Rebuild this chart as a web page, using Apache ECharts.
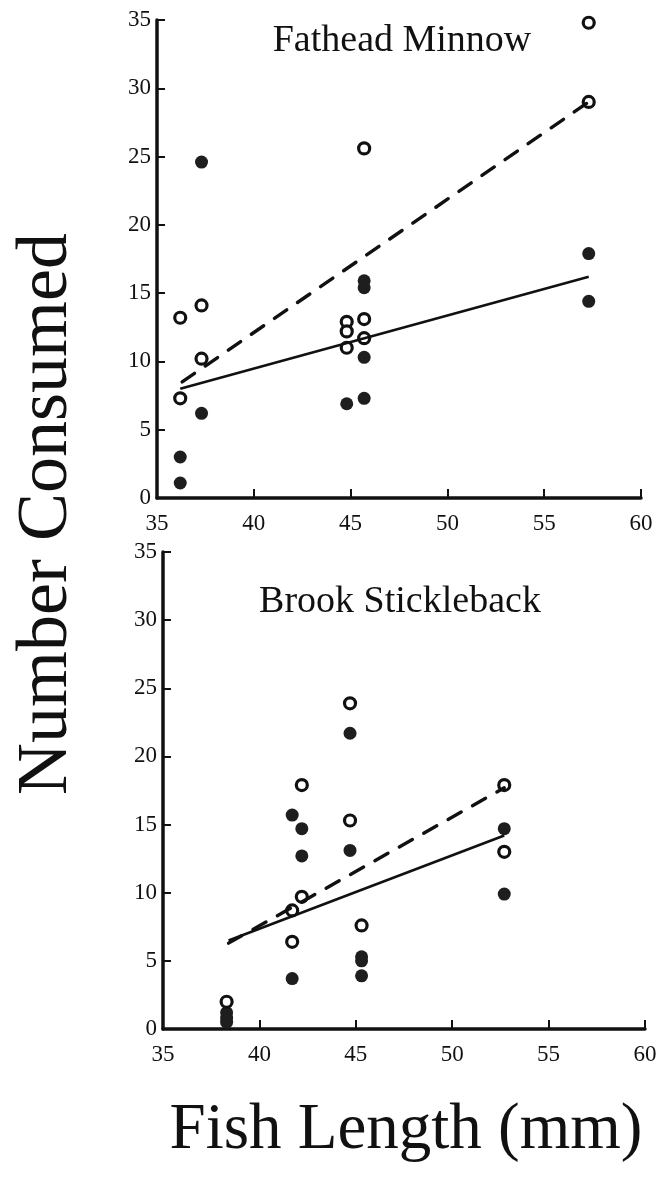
<!DOCTYPE html>
<html>
<head>
<meta charset="utf-8">
<script src="https://cdn.jsdelivr.net/npm/echarts@6/dist/echarts.min.js"></script>
<style>
html,body{margin:0;padding:0;background:#fff;}
#chart{width:661px;height:1179px;}
</style>
</head>
<body>
<div id="chart"></div>
<script>
// ---- Data ----
var xTicks = [35, 40, 45, 50, 55, 60];
var yTicks = [0, 5, 10, 15, 20, 25, 30, 35];

// Fathead Minnow (top panel)
var fmFilledX = [36.2, 36.2, 37.3, 37.3, 44.8, 45.7, 45.7, 45.7, 45.7, 57.3, 57.3];
var fmFilledY = [3.0, 1.1, 24.6, 6.2, 6.9, 7.3, 10.3, 15.4, 15.9, 17.9, 14.4];
var fmOpenX = [36.2, 36.2, 37.3, 37.3, 44.8, 44.8, 44.8, 45.7, 45.7, 45.7, 57.3, 57.3];
var fmOpenY = [13.2, 7.3, 14.1, 10.2, 12.9, 12.2, 11.0, 13.1, 11.7, 25.6, 34.8, 29.0];
var fmSolidX = [36.2, 57.3];
var fmSolidY = [8.0, 16.2];
var fmDashX = [36.3, 57.3];
var fmDashY = [8.5, 29.0];

// Brook Stickleback (bottom panel)
var bsFilledX = [38.3, 38.3, 38.3, 41.7, 41.7, 42.2, 42.2, 44.7, 44.7, 45.3, 45.3, 45.3, 52.7, 52.7];
var bsFilledY = [1.2, 0.8, 0.5, 15.7, 3.7, 14.7, 12.7, 21.7, 13.1, 5.3, 5.0, 3.9, 14.7, 9.9];
var bsOpenX = [38.3, 41.7, 41.7, 42.2, 42.2, 44.7, 44.7, 45.3, 52.7, 52.7];
var bsOpenY = [2.0, 8.7, 6.4, 9.7, 17.9, 23.9, 15.3, 7.6, 17.9, 13.0];
var bsSolidX = [38.4, 52.7];
var bsSolidY = [6.5, 14.2];
var bsDashX = [38.4, 52.7];
var bsDashY = [6.3, 17.7];

var panelTitles = ['Fathead Minnow', 'Brook Stickleback'];
var xName = 'Fish Length (mm)';
var yName = 'Number Consumed';

// ---- Helpers ----
function pairs(xs, ys) { return xs.map(function (x, i) { return [x, ys[i]]; }); }
var FONT = "'Liberation Serif','DejaVu Serif',serif";
var INK = '#111';

function xAxisCfg(idx) {
  return {
    type: 'value', gridIndex: idx,
    min: xTicks[0], max: xTicks[xTicks.length - 1], interval: 5,
    axisLine: { show: true, onZero: false, lineStyle: { color: INK, width: 3.5 } },
    axisTick: { show: true, inside: true, length: 9, lineStyle: { color: INK, width: 2 } },
    splitLine: { show: false },
    axisLabel: { color: INK, fontFamily: FONT, fontSize: 23, margin: 14 }
  };
}
function yAxisCfg(idx) {
  return {
    type: 'value', gridIndex: idx,
    min: yTicks[0], max: yTicks[yTicks.length - 1], interval: 5,
    axisLine: { show: true, onZero: false, lineStyle: { color: INK, width: 3.5 } },
    axisTick: { show: true, inside: true, length: 8, lineStyle: { color: INK, width: 2 } },
    splitLine: { show: false },
    axisLabel: { color: INK, fontFamily: FONT, fontSize: 23, margin: 6 }
  };
}
function filledSeries(idx, xs, ys) {
  return {
    type: 'scatter', xAxisIndex: idx, yAxisIndex: idx,
    data: pairs(xs, ys), symbol: 'circle', symbolSize: 13, z: 3,
    itemStyle: { color: '#1e1e1e', opacity: 1 }
  };
}
function openSeries(idx, xs, ys) {
  return {
    type: 'scatter', xAxisIndex: idx, yAxisIndex: idx,
    data: pairs(xs, ys), symbol: 'circle', symbolSize: 11, z: 4,
    itemStyle: { color: '#fff', borderColor: INK, borderWidth: 3.2, opacity: 1 }
  };
}
function lineSeries(idx, xs, ys, dashed) {
  return {
    type: 'line', xAxisIndex: idx, yAxisIndex: idx,
    data: pairs(xs, ys), symbol: 'none', z: 5, silent: true,
    lineStyle: dashed ? { color: INK, width: 3.4, type: [15, 13], cap: 'round' }
                      : { color: INK, width: 2.6, type: 'solid' }
  };
}

var chart = echarts.init(document.getElementById('chart'), null, { renderer: 'canvas' });
chart.setOption({
  animation: false,
  backgroundColor: '#fff',
  title: [
    { text: panelTitles[0], left: 397, top: 17, textAlign: 'center',
      textStyle: { fontFamily: FONT, fontSize: 38, fontWeight: 'normal', color: INK } },
    { text: panelTitles[1], left: 395, top: 578, textAlign: 'center',
      textStyle: { fontFamily: FONT, fontSize: 38, fontWeight: 'normal', color: INK } },
    { text: xName, left: 401, top: 1093, textAlign: 'center',
      textStyle: { fontFamily: FONT, fontSize: 65, fontWeight: 'normal', color: INK } }
  ],
  graphic: [
    { type: 'text', x: 47, y: 514, rotation: Math.PI / 2,
      style: { text: yName, font: "72px 'Liberation Serif','DejaVu Serif',serif",
               fill: INK, textAlign: 'center', textVerticalAlign: 'middle' } }
  ],
  grid: [
    { left: 157, top: 20, width: 484, height: 478 },
    { left: 163, top: 552, width: 482, height: 477 }
  ],
  xAxis: [xAxisCfg(0), xAxisCfg(1)],
  yAxis: [yAxisCfg(0), yAxisCfg(1)],
  series: [
    filledSeries(0, fmFilledX, fmFilledY),
    openSeries(0, fmOpenX, fmOpenY),
    lineSeries(0, fmSolidX, fmSolidY, false),
    lineSeries(0, fmDashX, fmDashY, true),
    filledSeries(1, bsFilledX, bsFilledY),
    openSeries(1, bsOpenX, bsOpenY),
    lineSeries(1, bsSolidX, bsSolidY, false),
    lineSeries(1, bsDashX, bsDashY, true)
  ]
});
</script>
</body>
</html>
